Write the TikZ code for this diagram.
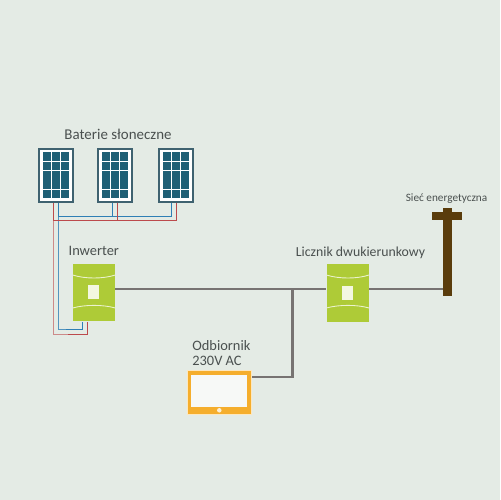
\documentclass[tikz,border=0pt]{standalone}
\usepackage{fontspec}
\setmainfont{Carlito}
\usepackage{tikz}
\usetikzlibrary{positioning,arrows.meta,fit}
\definecolor{bgcol}{HTML}{E4EBE5}
\definecolor{panelcol}{HTML}{1F5F75}
\definecolor{framecol}{HTML}{3F6270}
\definecolor{greencol}{HTML}{AECB37}
\definecolor{orangecol}{HTML}{F5AE2D}
\definecolor{polecol}{HTML}{5A3C0C}
\definecolor{linecol}{HTML}{777372}
\definecolor{redcol}{HTML}{BC4A4C}
\definecolor{bluecol}{HTML}{2F7FB5}
\definecolor{textcol}{HTML}{4A504F}
\tikzset{
  panelbox/.style={draw=framecol, line width=1.1pt, fill=white, minimum width=0.68cm, minimum height=1.06cm, inner sep=0pt},
  cellbox/.style={fill=panelcol, minimum width=0.162cm, minimum height=0.172cm, inner sep=0pt},
  greenbox/.style={fill=greencol, minimum width=0.84cm, minimum height=1.16cm, inner sep=0pt},
  holebox/.style={fill=white!85!greencol, minimum width=0.22cm, minimum height=0.28cm, inner sep=0pt},
  loadbox/.style={draw=white!70!orangecol, line width=0.4pt, fill=orangecol, minimum width=1.28cm, minimum height=0.87cm, inner sep=0pt},
  screenbox/.style={fill=white!70!bgcol, minimum width=1.12cm, minimum height=0.63cm, inner sep=0pt},
  polebox/.style={fill=polecol, inner sep=0pt},
  redwire/.style={draw=redcol, line width=0.5pt},
  bluewire/.style={draw=bluecol, line width=0.5pt},
  palered/.style={draw=redcol!60!bgcol, line width=0.5pt},
  paleblue/.style={draw=bluecol!80!bgcol, line width=0.5pt},
  mainline/.style={draw=linecol, line width=1.4pt},
  seam/.style={draw=white!75!greencol, line width=0.5pt},
  relabel/.style={text=textcol, inner sep=0pt, align=left}
}

\begin{document}
\begin{tikzpicture}[x=0.02cm, y=-0.02cm]
  \useasboundingbox (0,0) rectangle (500,500);
  \fill[bgcol] (0,0) rectangle (500,500);
  % panels
  \node[panelbox] (pv1) at (55.8,175.2) {};
  \node[panelbox] (pv2) at (115,175.2) {};
  \node[panelbox] (pv3) at (175.6,175.2) {};
  \foreach \p in {pv1,pv2,pv3} {
    \foreach \i in {0,1,2} {
      \foreach \j in {0,1,2,3,4} {
        \node[cellbox] (\p-\i-\j) at ([xshift=\i*0.18cm-0.18cm, yshift=\j*0.188cm-0.376cm]\p.center) {};
      }
    }
  }
  % boxes
  \node[greenbox] (inv) at (94,292.5) {};
  \node[holebox] (invhole) at (93.8,292) {};
  \node[greenbox] (meter) at (347.7,292.8) {};
  \node[holebox] (meterhole) at (347.3,293) {};
  \node[loadbox] (load) at (219.2,392.3) {};
  \node[screenbox] (screen) at (219.2,390.8) {};
  \node[circle, fill=white!80!orangecol, minimum size=0.09cm, inner sep=0pt] (dot) at (219.3,410.3) {};
  \node[polebox, minimum width=0.17cm, minimum height=1.76cm] (pole) at (447.5,252) {};
  \node[polebox, minimum width=0.6cm, minimum height=0.16cm] (arm) at (447,216) {};
  % seams
  \draw[seam] (inv.west|-0,275) .. controls (85,279) and (103,279) .. (inv.east|-0,275);
  \draw[seam] (inv.west|-0,308) .. controls (85,304.5) and (103,304.5) .. (inv.east|-0,308);
  \draw[seam] (meter.west|-0,275) .. controls (339,279) and (357,279) .. (meter.east|-0,275);
  \draw[seam] (meter.west|-0,308) .. controls (339,304.5) and (357,304.5) .. (meter.east|-0,308);
  % wires
  \coordinate (redcorner) at (53.3,334);
  \coordinate (bluecorner) at (58.3,329);
  \coordinate (redjoin) at (53.3,220);
  \coordinate (bluejoin) at (58.3,216);
  \coordinate (redmid) at (68,334);
  \coordinate (bluemid) at (66,329);
  \draw[palered] (redjoin) -- (redcorner) -- (redmid);
  \draw[paleblue] (bluejoin) -- (bluecorner) -- (bluemid);
  \draw[redwire] (pv1.south-|redcorner) -- (redjoin);
  \draw[bluewire] (pv1.south-|bluecorner) -- (bluejoin);
  \draw[redwire] (redmid) -| (inv.south-|87.7,0);
  \draw[bluewire] (bluemid) -| (inv.south-|82.7,0);
  \draw[redwire] (redjoin) -| (pv3.south-|176.7,0);
  \draw[bluewire] (bluejoin) -| (pv3.south-|171.7,0);
  \draw[redwire] (pv2.south-|117.7,0) -- (redjoin-|117.7,0);
  \draw[bluewire] (pv2.south-|112.7,0) -- (bluejoin-|112.7,0);
  % power lines
  \coordinate (tee) at (292.7,289);
  \draw[mainline] (inv.east|-tee) -- (meter.west|-tee);
  \draw[mainline] (meter.east|-tee) -- (pole.west|-tee);
  \draw[mainline] (tee) |- (load.east|-0,377);
  % labels
  \node[relabel, font=\fontsize{8.5}{10}\selectfont] (pvtext) at (118,134) {Baterie słoneczne};
  \node[relabel, font=\fontsize{8.2}{9}\selectfont] (invtext) at (93.8,251) {Inwerter};
  \node[relabel, font=\fontsize{7.85}{9}\selectfont] (metertext) at (360.5,252.5) {Licznik dwukierunkowy};
  \node[relabel, font=\fontsize{6.4}{7}\selectfont] (gridtext) at (446.5,199) {Sieć energetyczna};
  \node[relabel, font=\fontsize{8.2}{9}\selectfont, anchor=west] (loadtext) at (192,353) {Odbiornik\\230V AC};
\end{tikzpicture}
\end{document}
